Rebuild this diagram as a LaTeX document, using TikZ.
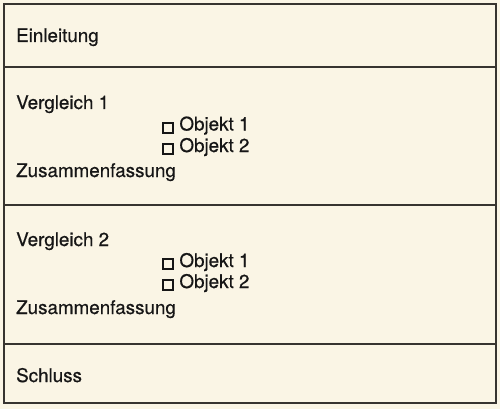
\documentclass[tikz,border=0pt]{standalone}
\usepackage{fontspec}
\setmainfont{TeX Gyre Heros}[FakeBold=0.6]
\definecolor{paper}{RGB}{250,245,229}
\definecolor{ink}{RGB}{22,22,22}
\definecolor{rule}{RGB}{55,52,48}
\newcommand{\chkbox}{\raisebox{-1pt}{\setlength{\fboxrule}{2pt}\setlength{\fboxsep}{0pt}\fbox{\rule{0pt}{8pt}\rule{8pt}{0pt}}}}
\begin{document}
\begin{tikzpicture}[x=1pt,y=-1pt,
  lbl/.style={anchor=base west,inner sep=0pt,text=ink,font=\fontsize{18.8}{22}\selectfont},
  frame/.style={draw=rule,line width=1.5pt}]
\fill[paper] (0,0) rectangle (500,409);
\useasboundingbox (0,0) rectangle (500,409);
\draw[frame] (4,4) rectangle (496,403);
\coordinate (l1a) at (4,67);   \coordinate (l1b) at (496,67);
\coordinate (l2a) at (4,205);  \coordinate (l2b) at (496,205);
\coordinate (l3a) at (4,344);  \coordinate (l3b) at (496,344);
\draw[frame] (l1a) -- (l1b);
\draw[frame] (l2a) -- (l2b);
\draw[frame] (l3a) -- (l3b);
\node[lbl] (ein) at (16,42) {Einleitung};
\node[lbl] (v1) at (16,109) {Vergleich 1};
\node[lbl] (v1o1) at (162,130.5) {\chkbox\ Objekt 1};
\node[lbl] (v1o2) at (162,152) {\chkbox\ Objekt 2};
\node[lbl] (z1) at (16,177) {Zusammenfassung};
\node[lbl] (v2) at (16,246) {Vergleich 2};
\node[lbl] (v2o1) at (162,267) {\chkbox\ Objekt 1};
\node[lbl] (v2o2) at (162,288) {\chkbox\ Objekt 2};
\node[lbl] (z2) at (16,314) {Zusammenfassung};
\node[lbl] (sch) at (16,382) {Schluss};
\end{tikzpicture}
\end{document}
